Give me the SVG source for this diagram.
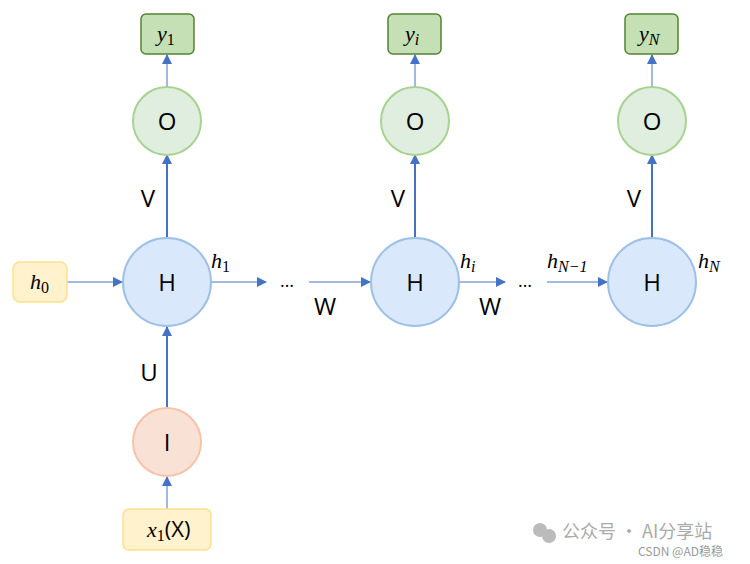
<svg xmlns="http://www.w3.org/2000/svg" width="750" height="564" viewBox="0 0 750 564">
<style>
.h{fill:#dae8fc;stroke:#9dc0e6;stroke-width:2}
.o{fill:#d5e8d4;stroke:#a6d38f;stroke-width:2;fill-opacity:.75}
.i{fill:#fae1d6;stroke:#f5c4a8;stroke-width:2}
.y{fill:#c5e0b4;stroke:#548235;stroke-width:1.5}
.in{fill:#fff2cc;stroke:#ffe08a;stroke-width:1.5}
.t{font-family:"Open Sans","DejaVu Sans",sans-serif;font-size:24px;text-anchor:middle;fill:#000}
.m{font-family:"Liberation Serif",serif;font-style:italic;font-size:22px;fill:#000}
.c{stroke:#4472c4;fill:none}
</style>
<defs><marker id="a" viewBox="0 0 10 10" refX="9" refY="5" markerWidth="10" markerHeight="10" markerUnits="userSpaceOnUse" orient="auto"><path d="M0 0L10 5L0 10z" fill="#4472c4"/></marker></defs>
<rect width="750" height="564" fill="#fff"/>
<g id="connectors">
<line class="c" x1="67" y1="282" x2="122" y2="282" marker-end="url(#a)"/>
<line class="c" x1="211" y1="282" x2="266" y2="282" marker-end="url(#a)"/>
<line class="c" x1="309" y1="282" x2="370" y2="282" marker-end="url(#a)"/>
<line class="c" x1="459" y1="282" x2="505" y2="282" marker-end="url(#a)"/>
<line class="c" x1="547" y1="282" x2="607" y2="282" marker-end="url(#a)"/>
<line class="c" stroke-width="2" x1="167" y1="238" x2="167" y2="155" marker-end="url(#a)"/>
<line class="c" stroke-width="2" x1="415" y1="238" x2="415" y2="155" marker-end="url(#a)"/>
<line class="c" stroke-width="2" x1="652" y1="238" x2="652" y2="155" marker-end="url(#a)"/>
<line class="c" x1="167" y1="87" x2="167" y2="55" marker-end="url(#a)"/>
<line class="c" x1="415" y1="87" x2="415" y2="55" marker-end="url(#a)"/>
<line class="c" x1="652" y1="87" x2="652" y2="55" marker-end="url(#a)"/>
<line class="c" stroke-width="2" x1="167" y1="408" x2="167" y2="327" marker-end="url(#a)"/>
<line class="c" x1="167" y1="509" x2="167" y2="477" marker-end="url(#a)"/>
<text class="t" x="148" y="207">V</text>
<text class="t" x="398" y="207">V</text>
<text class="t" x="634" y="207">V</text>
<text class="t" x="149" y="381">U</text>
<text class="t" x="325" y="315">W</text>
<text class="t" x="490" y="315">W</text>
<text class="t" x="287" y="287" style="font-size:18px">…</text>
<text class="t" x="525" y="287" style="font-size:18px">…</text>
<text class="m" x="211" y="268">h<tspan font-style="normal" font-size="16" dy="4">1</tspan></text>
<text class="m" x="460" y="268">h<tspan font-size="16" dy="4">i</tspan></text>
<text class="m" x="547" y="268">h<tspan font-size="16" dy="4">N−1</tspan></text>
<text class="m" x="698" y="268">h<tspan font-size="16" dy="4">N</tspan></text>
</g>
<g id="h0"><rect class="in" x="13" y="262" width="54" height="40" rx="7"/><text class="m" x="30" y="289">h<tspan font-style="normal" font-size="16" dy="4">0</tspan></text></g>
<g id="H1"><circle class="h" cx="167" cy="282" r="44"/><text class="t" x="167" y="291">H</text></g>
<g id="H2"><circle class="h" cx="415" cy="282" r="44"/><text class="t" x="415" y="291">H</text></g>
<g id="H3"><circle class="h" cx="652" cy="282" r="44"/><text class="t" x="652" y="291">H</text></g>
<g id="O1"><circle class="o" cx="167" cy="121" r="34"/><text class="t" x="167" y="130">O</text></g>
<g id="O2"><circle class="o" cx="415" cy="121" r="34"/><text class="t" x="415" y="130">O</text></g>
<g id="O3"><circle class="o" cx="652" cy="121" r="34"/><text class="t" x="652" y="130">O</text></g>
<g id="y1"><rect class="y" x="141" y="14" width="53" height="40" rx="5"/><text class="m" x="157" y="41">y<tspan font-style="normal" font-size="16" dy="4">1</tspan></text></g>
<g id="yi"><rect class="y" x="388" y="14" width="53" height="40" rx="5"/><text class="m" x="405" y="41">y<tspan font-size="16" dy="4">i</tspan></text></g>
<g id="yN"><rect class="y" x="625" y="14" width="53" height="40" rx="5"/><text class="m" x="639" y="41">y<tspan font-size="16" dy="4">N</tspan></text></g>
<g id="I"><ellipse class="i" cx="167" cy="442" rx="34" ry="34"/><text class="t" x="167" y="451">I</text></g>
<g id="x1"><rect class="in" x="123" y="509" width="88" height="41" rx="6"/><text class="m" x="147" y="537">x<tspan font-style="normal" font-size="16" dy="4">1</tspan><tspan font-style="normal" font-family="Open Sans,sans-serif" dy="-4">(X)</tspan></text></g>
<g id="watermark" font-family="Noto Sans CJK SC,sans-serif" fill="#aaa">
<circle cx="540" cy="530" r="7" fill="#bbb"/><circle cx="549" cy="536" r="7" fill="#bbb"/>
<text x="562" y="538" font-size="18">公众号 · AI分享站</text>
<text x="638" y="556" font-size="12" fill="#999">CSDN @AD稳稳</text>
</g>
</svg>
